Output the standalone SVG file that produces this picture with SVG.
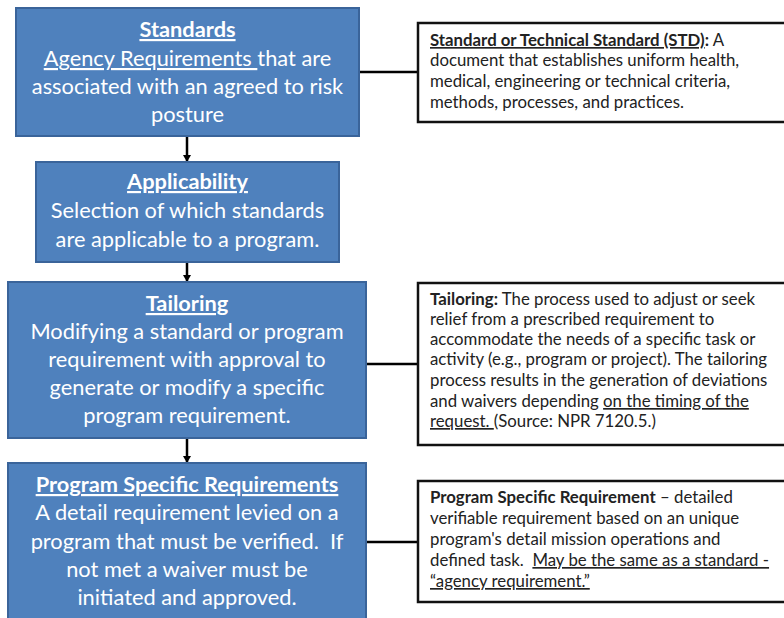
<svg xmlns="http://www.w3.org/2000/svg" width="784" height="618" viewBox="0 0 784 618">
<style>
.node{fill:#4F81BD;stroke:#3A649A;stroke-width:2}
.def{fill:#fff;stroke:#111;stroke-width:2.5}
.nt{font-family:Lato,"Noto Sans",sans-serif;font-size:21.8px;fill:#fff;text-anchor:middle}
.dt{font-family:Lato,"Noto Sans",sans-serif;font-size:16.8px;fill:#222}
.b{font-weight:bold}
.u{text-decoration:underline}
.con{stroke:#000;stroke-width:2.5;fill:none}
</style>
<defs>
<marker id="ah" markerWidth="8" markerHeight="8" refX="6" refY="4" orient="auto" markerUnits="userSpaceOnUse">
<path d="M0,0 L7,4 L0,8 Z" fill="#000"/>
</marker>
</defs>
<rect width="784" height="618" fill="#fff"/>
<g id="connectors">
<line class="con" x1="187" y1="137" x2="187" y2="161" marker-end="url(#ah)"/>
<line class="con" x1="187" y1="263" x2="187" y2="281" marker-end="url(#ah)"/>
<line class="con" x1="187" y1="439" x2="187" y2="462" marker-end="url(#ah)"/>
<line class="con" x1="359" y1="72" x2="418" y2="72"/>
<line class="con" x1="366" y1="364" x2="418" y2="364"/>
<line class="con" x1="366" y1="542" x2="418" y2="542"/>
</g>
<g id="standards">
<rect class="node" x="16" y="8" width="343" height="128"/>
<text class="nt" xml:space="preserve"><tspan x="187.5" y="37" class="b u">Standards</tspan><tspan x="187.5" y="66"><tspan class="u">Agency Requirements </tspan>that are</tspan><tspan x="187.5" y="94">associated with an agreed to risk</tspan><tspan x="187.5" y="122">posture</tspan></text>
</g>
<g id="applicability">
<rect class="node" x="36" y="162" width="303" height="100"/>
<text class="nt"><tspan x="187.5" y="189" class="b u">Applicability</tspan><tspan x="187.5" y="218">Selection of which standards</tspan><tspan x="187.5" y="247">are applicable to a program.</tspan></text>
</g>
<g id="tailoring">
<rect class="node" x="8" y="282" width="358" height="156"/>
<text class="nt"><tspan x="187" y="311" class="b u">Tailoring</tspan><tspan x="187" y="339">Modifying a standard or program</tspan><tspan x="187" y="367">requirement with approval to</tspan><tspan x="187" y="395">generate or modify a specific</tspan><tspan x="187" y="423">program requirement.</tspan></text>
</g>
<g id="psr">
<rect class="node" x="8" y="463" width="358" height="170"/>
<text class="nt" xml:space="preserve"><tspan x="187" y="492" class="b u">Program Specific Requirements</tspan><tspan x="187" y="520">A detail requirement levied on a</tspan><tspan x="187" y="549">program that must be verified.  If</tspan><tspan x="187" y="577">not met a waiver must be</tspan><tspan x="187" y="605">initiated and approved.</tspan></text>
</g>
<g id="def-std">
<rect class="def" x="418" y="23" width="370" height="99"/>
<text class="dt" xml:space="preserve"><tspan x="430" y="46"><tspan class="b u">Standard or Technical Standard (STD)</tspan><tspan class="b">:</tspan> A</tspan><tspan x="430" y="66">document that establishes uniform health,</tspan><tspan x="430" y="87">medical, engineering or technical criteria,</tspan><tspan x="430" y="108">methods, processes, and practices.</tspan></text>
</g>
<g id="def-tailoring">
<rect class="def" x="418" y="283" width="370" height="162"/>
<text class="dt" xml:space="preserve"><tspan x="430" y="305"><tspan class="b">Tailoring:</tspan> The process used to adjust or seek</tspan><tspan x="430" y="325">relief from a prescribed requirement to</tspan><tspan x="430" y="345">accommodate the needs of a specific task or</tspan><tspan x="430" y="365">activity (e.g., program or project). The tailoring</tspan><tspan x="430" y="386">process results in the generation of deviations</tspan><tspan x="430" y="407">and waivers depending <tspan class="u">on the timing of the</tspan></tspan><tspan x="430" y="427"><tspan class="u">request. </tspan>(Source: NPR 7120.5.)</tspan></text>
</g>
<g id="def-psr">
<rect class="def" x="418" y="481" width="370" height="121"/>
<text class="dt" xml:space="preserve"><tspan x="430" y="503"><tspan class="b">Program Specific Requirement</tspan> – detailed</tspan><tspan x="430" y="524">verifiable requirement based on an unique</tspan><tspan x="430" y="545">program's detail mission operations and</tspan><tspan x="430" y="566">defined task.  <tspan class="u">May be the same as a standard -</tspan></tspan><tspan x="430" y="587"><tspan class="u">“agency requirement.”</tspan></tspan></text>
</g>
</svg>
